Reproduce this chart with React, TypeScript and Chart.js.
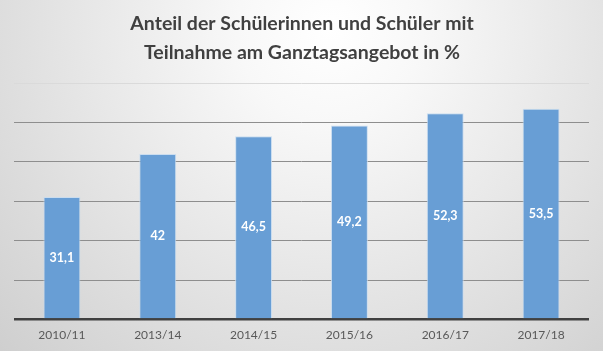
import React, { useEffect, useRef } from "react";
import { Chart, registerables } from "chart.js";

Chart.register(...registerables);

const categories = ["2010/11", "2013/14", "2014/15", "2015/16", "2016/17", "2017/18"];
const values = [31.1, 42, 46.5, 49.2, 52.3, 53.5];
const titleLines = ["Anteil der Schülerinnen und Schüler mit", "Teilnahme am Ganztagsangebot in %"];
const yMax = 60;
const yStep = 10;

const FONT = "Lato, 'Open Sans', sans-serif";

const bgPlugin = {
  id: "bg",
  beforeDraw(chart: any) {
    const { ctx, width, height } = chart;
    ctx.save();
    const g = ctx.createRadialGradient(330, 30, 0, 330, 30, 620);
    g.addColorStop(0, "#ffffff");
    g.addColorStop(0.15, "#f8f8f8");
    g.addColorStop(1, "#bdbdbd");
    ctx.fillStyle = g;
    ctx.fillRect(0, 0, width, height);
    ctx.fillStyle = "#404040";
    ctx.font = `bold 19.5px ${FONT}`;
    ctx.textAlign = "center";
    ctx.textBaseline = "middle";
    ctx.fillText(titleLines[0], 302, 24);
    ctx.fillText(titleLines[1], 302, 53);
    ctx.restore();
  },
};

const labelPlugin = {
  id: "vals",
  afterDatasetsDraw(chart: any) {
    const { ctx } = chart;
    const meta = chart.getDatasetMeta(0);
    ctx.save();
    ctx.fillStyle = "#ffffff";
    ctx.font = `bold 12.5px ${FONT}`;
    ctx.textAlign = "center";
    ctx.textBaseline = "middle";
    meta.data.forEach((bar: any, i: number) => {
      const txt = String(values[i]).replace(".", ",");
      ctx.fillText(txt, bar.x, (bar.y + bar.base) / 2);
    });
    ctx.restore();
  },
};

export default function App() {
  const ref = useRef<HTMLCanvasElement>(null);
  useEffect(() => {
    if (!ref.current) return;
    const chart = new Chart(ref.current, {
      type: "bar",
      data: {
        labels: categories,
        datasets: [
          {
            data: values,
            backgroundColor: "rgb(104,158,213)",
            borderColor: "rgba(200,220,240,0.9)",
            borderWidth: 1,
            categoryPercentage: 1,
            barPercentage: 0.385,
          },
        ],
      },
      options: {
        animation: false,
        responsive: false,
        devicePixelRatio: 1,
        layout: { padding: { top: 83, left: 14, right: 14, bottom: 1 } },
        plugins: {
          legend: { display: false },
          tooltip: { enabled: false },
          title: { display: false },
        },
        scales: {
          x: {
            grid: { display: false, drawTicks: false },
            border: { display: false },
            ticks: {
              padding: 8,
              color: "#595959",
              font: { family: FONT, size: 12 },
            },
          },
          y: {
            min: 0,
            max: yMax,
            ticks: { display: false, stepSize: yStep },
            border: { display: false },
            grid: {
              drawTicks: false,
              color: (c: any) =>
                c.tick && c.tick.value === 0
                  ? "#404040"
                  : c.tick && c.tick.value === yMax
                  ? "#dadada"
                  : "#8e8e8e",
              lineWidth: (c: any) => (c.tick && c.tick.value === 0 ? 2.5 : 1),
            },
          },
        },
      },
      plugins: [bgPlugin, labelPlugin],
    });
    return () => chart.destroy();
  }, []);
  return (
    <div style={{ position: "fixed", left: 0, top: 0, width: 603, height: 351 }}>
      <canvas ref={ref} width={603} height={351} style={{ display: "block" }} />
    </div>
  );
}
